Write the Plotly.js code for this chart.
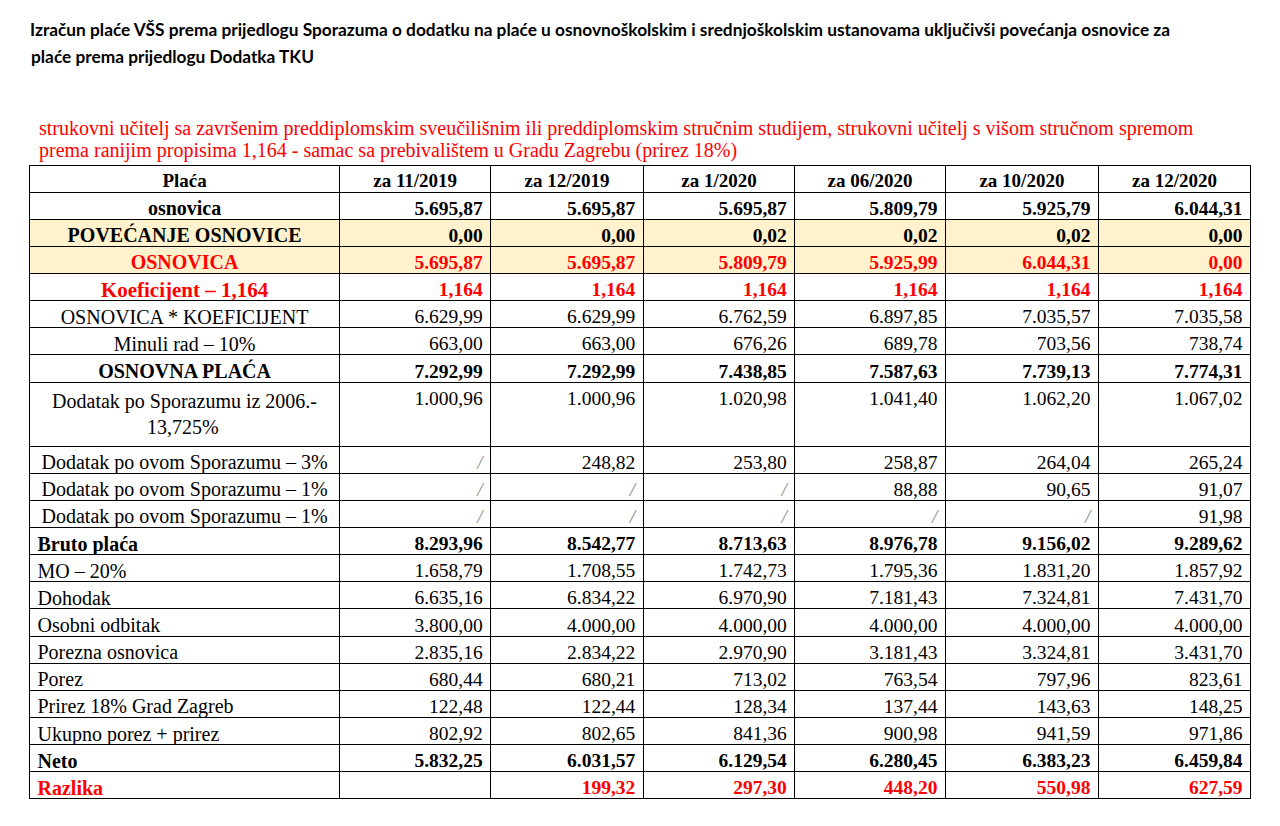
<!DOCTYPE html>
<html>
<head>
<meta charset="utf-8">
<script src="https://cdn.plot.ly/plotly-3.0.1.min.js"></script>
<style>html,body{margin:0;padding:0;background:#fff;}#chart{width:1280px;height:826px;}</style>
</head>
<body>
<div id="chart"></div>
<script>
// ---- data ----
var titleLines = [
  'Izračun plaće VŠS prema prijedlogu Sporazuma o dodatku na plaće u osnovnoškolskim i srednjoškolskim ustanovama uključivši povećanja osnovice za',
  'plaće prema prijedlogu Dodatka TKU'
];
var subtitleLines = [
  'strukovni učitelj sa završenim preddiplomskim sveučilišnim ili preddiplomskim stručnim studijem, strukovni učitelj s višom stručnom spremom',
  'prema ranijim propisima 1,164 - samac sa prebivalištem u Gradu Zagrebu (prirez 18%)'
];
var periods = ['za 11/2019', 'za 12/2019', 'za 1/2020', 'za 06/2020', 'za 10/2020', 'za 12/2020'];
var rowLabels = [
  'osnovica', 'POVEĆANJE OSNOVICE', 'OSNOVICA', 'Koeficijent – 1,164',
  'OSNOVICA * KOEFICIJENT', 'Minuli rad – 10%', 'OSNOVNA PLAĆA',
  'Dodatak po Sporazumu iz 2006.-<br>' + '\u00a0'.repeat(19) + '13,725%',
  'Dodatak po ovom Sporazumu – 3%', 'Dodatak po ovom Sporazumu – 1%', 'Dodatak po ovom Sporazumu – 1%',
  'Bruto plaća', 'MO – 20%', 'Dohodak', 'Osobni odbitak', 'Porezna osnovica', 'Porez',
  'Prirez 18% Grad Zagreb', 'Ukupno porez + prirez', 'Neto', 'Razlika'
];
// null = "/" (not applicable), '' = empty cell
var v_11_2019 = [5695.87, 0.00, 5695.87, 1.164, 6629.99, 663.00, 7292.99, 1000.96, null, null, null, 8293.96, 1658.79, 6635.16, 3800.00, 2835.16, 680.44, 122.48, 802.92, 5832.25, ''];
var v_12_2019 = [5695.87, 0.00, 5695.87, 1.164, 6629.99, 663.00, 7292.99, 1000.96, 248.82, null, null, 8542.77, 1708.55, 6834.22, 4000.00, 2834.22, 680.21, 122.44, 802.65, 6031.57, 199.32];
var v_1_2020  = [5695.87, 0.02, 5809.79, 1.164, 6762.59, 676.26, 7438.85, 1020.98, 253.80, null, null, 8713.63, 1742.73, 6970.90, 4000.00, 2970.90, 713.02, 128.34, 841.36, 6129.54, 297.30];
var v_06_2020 = [5809.79, 0.02, 5925.99, 1.164, 6897.85, 689.78, 7587.63, 1041.40, 258.87, 88.88, null, 8976.78, 1795.36, 7181.43, 4000.00, 3181.43, 763.54, 137.44, 900.98, 6280.45, 448.20];
var v_10_2020 = [5925.79, 0.02, 6044.31, 1.164, 7035.57, 703.56, 7739.13, 1062.20, 264.04, 90.65, null, 9156.02, 1831.20, 7324.81, 4000.00, 3324.81, 797.96, 143.63, 941.59, 6383.23, 550.98];
var v_12_2020 = [6044.31, 0.00, 0.00, 1.164, 7035.58, 738.74, 7774.31, 1067.02, 265.24, 91.07, 91.98, 9289.62, 1857.92, 7431.70, 4000.00, 3431.70, 823.61, 148.25, 971.86, 6459.84, 627.59];
var valueColumns = [v_11_2019, v_12_2019, v_1_2020, v_06_2020, v_10_2020, v_12_2020];

// ---- styling per row ----
var decimals = rowLabels.map(function (l, i) { return i === 3 ? 3 : 2; });
var boldRows = [0, 1, 2, 3, 6, 11, 19, 20];
var redRows = [2, 3, 20];
var yellowRows = [1, 2];
var leftRows = [11, 12, 13, 14, 15, 16, 17, 18, 19, 20];

function fmt(v, d) {
  var parts = v.toFixed(d).split('.');
  return parts[0].replace(/\B(?=(\d{3})+(?!\d))/g, '.') + ',' + parts[1];
}
function has(arr, i) { return arr.indexOf(i) >= 0; }

var RED = '#ff0000';
var YEL = '#fff2cc';
var GRAY = '#8c8c8c';

var lab = { t: [], c: [], a: [], s: [], f: [], w: [], st: [] };
rowLabels.forEach(function (l, i) {
  lab.t.push(l);
  lab.c.push(has(redRows, i) ? RED : '#000');
  lab.a.push(has(leftRows, i) ? 'left' : 'center');
  lab.s.push(i === 3 ? 21 : 20);
  lab.f.push(has(yellowRows, i) ? YEL : '#fff');
  lab.w.push(has(boldRows, i) ? 'bold' : 'normal');
  lab.st.push('normal');
});

var cellValues = [lab.t], cellColors = [lab.c], cellAligns = [lab.a], cellSizes = [lab.s],
    cellFills = [lab.f], cellWeights = [lab.w], cellStyles = [lab.st];
valueColumns.forEach(function (col) {
  var txt = [], clr = [], al = [], sz = [], fl = [], wt = [], st = [];
  col.forEach(function (v, i) {
    var c = has(redRows, i) ? RED : '#000', s, style = 'normal';
    if (v === null) { s = '/'; c = GRAY; style = 'italic'; }
    else if (v === '') { s = ''; }
    else { s = fmt(v, decimals[i]); }
    txt.push(s); clr.push(c); al.push('right'); sz.push(19.5);
    fl.push(has(yellowRows, i) ? YEL : '#fff');
    wt.push(has(boldRows, i) ? 'bold' : 'normal');
    st.push(style);
  });
  cellValues.push(txt); cellColors.push(clr); cellAligns.push(al); cellSizes.push(sz);
  cellFills.push(fl); cellWeights.push(wt); cellStyles.push(st);
});

var headerValues = ['Plaća'].concat(periods);
var SERIF = 'Liberation Serif, Times New Roman, serif';

var W = 1280, H = 826;
var tableTrace = {
  type: 'table',
  domain: { x: [29.5 / W, 1250.5 / W], y: [0, 1 - 165 / H] },
  columnwidth: [310, 151, 152.5, 151.5, 150.5, 153, 152],
  header: {
    values: headerValues,
    align: 'center',
    height: 27,
    fill: { color: '#fff' },
    line: { color: '#000', width: 1 },
    font: { family: SERIF, size: 19, color: '#000', weight: 'bold' }
  },
  cells: {
    values: cellValues,
    align: cellAligns,
    height: 27.15,
    fill: { color: cellFills },
    line: { color: '#000', width: 1 },
    font: { family: SERIF, size: cellSizes, color: cellColors, weight: cellWeights, style: cellStyles }
  }
};

var layout = {
  width: W, height: H,
  margin: { l: 0, r: 0, t: 0, b: 0 },
  paper_bgcolor: '#fff',
  title: {
    text: titleLines[0],
    x: 30 / W, xanchor: 'left', xref: 'paper',
    y: 1 - 30 / H, yanchor: 'middle', yref: 'container',
    font: { family: 'Lato, Open Sans, sans-serif', size: 17.3, color: '#000', weight: 'bold' }
  },
  annotations: [
    {
      text: titleLines[1],
      xref: 'paper', yref: 'paper', x: 29 / W, y: 1 - 57 / H, xanchor: 'left', yanchor: 'middle',
      showarrow: false,
      font: { family: 'Lato, Open Sans, sans-serif', size: 17.3, color: '#000', weight: 'bold' }
    },
    {
      text: subtitleLines[0],
      xref: 'paper', yref: 'paper', x: 37 / W, y: 1 - 128 / H, xanchor: 'left', yanchor: 'middle',
      showarrow: false,
      font: { family: SERIF, size: 20, color: RED }
    },
    {
      text: subtitleLines[1],
      xref: 'paper', yref: 'paper', x: 37 / W, y: 1 - 150 / H, xanchor: 'left', yanchor: 'middle',
      showarrow: false,
      font: { family: SERIF, size: 20, color: RED }
    }
  ]
};

Plotly.newPlot('chart', [tableTrace], layout, { displayModeBar: false, staticPlot: true });
</script>
</body>
</html>
